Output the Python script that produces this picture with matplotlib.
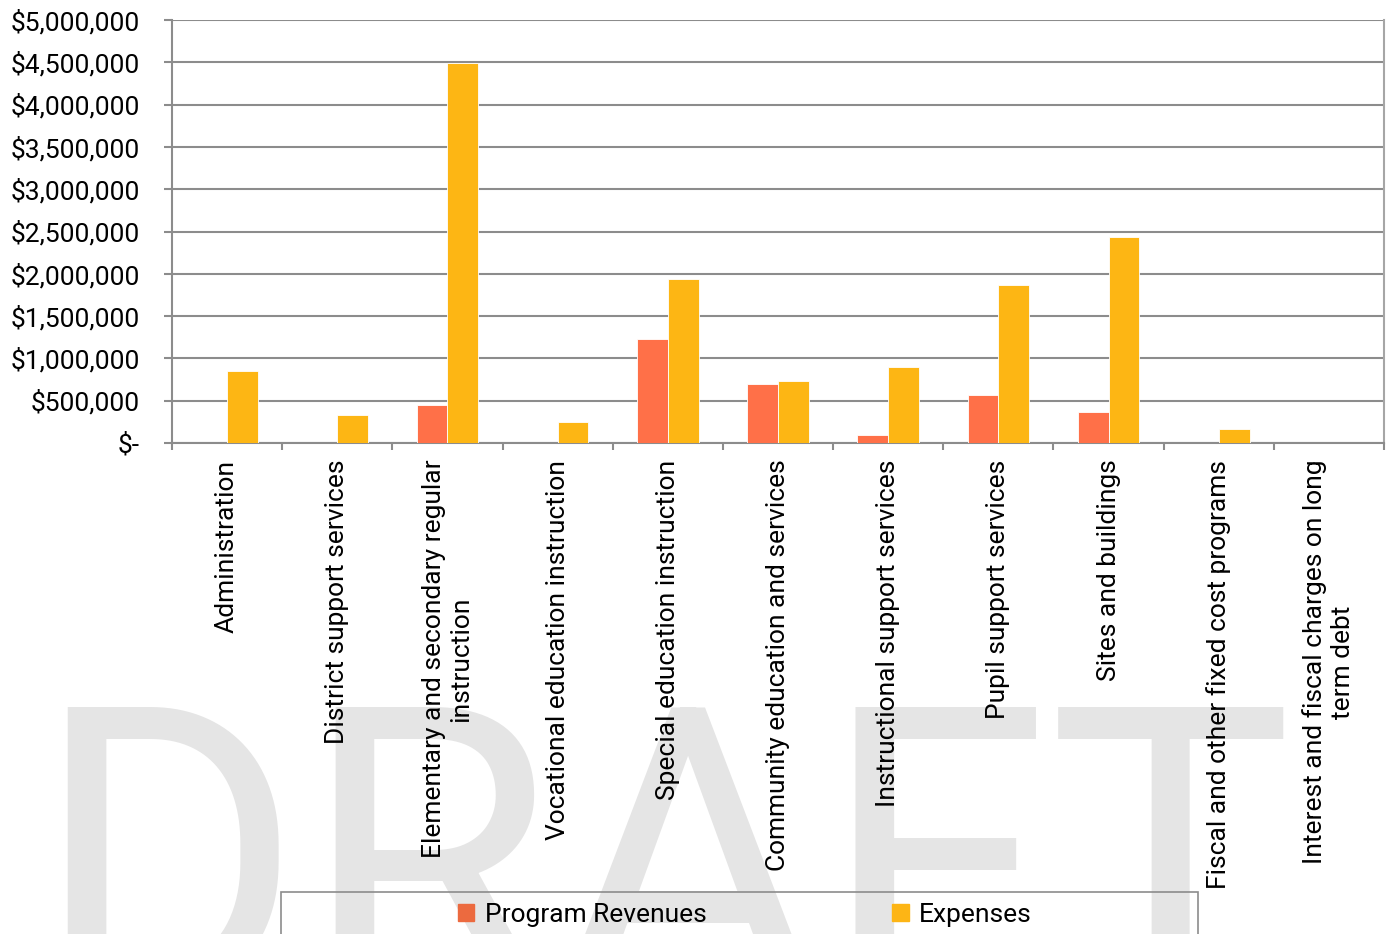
import matplotlib
matplotlib.use("Agg")
import matplotlib.pyplot as plt
from matplotlib.patches import Rectangle, Patch
from matplotlib.ticker import FuncFormatter, FixedLocator
import numpy as np

# Functional categories and amounts (dollars)
categories = [
    "Administration",
    "District support services",
    "Elementary and secondary regular\ninstruction",
    "Vocational education instruction",
    "Special education instruction",
    "Community education and services",
    "Instructional support services",
    "Pupil support services",
    "Sites and buildings",
    "Fiscal and other fixed cost programs",
    "Interest and fiscal charges on long\nterm debt",
]
program_revenues = [0, 0, 455000, 0, 1230000, 692000, 98000, 568000, 363000, 0, 0]
expenses = [855000, 335000, 4490000, 243000, 1940000, 737000, 898000, 1868000, 2435000, 169000, 0]

REV_COLOR = "#FF7048"
EXP_COLOR = "#FDB614"
GRID_COLOR = "#8C8C8C"

plt.rcParams["font.family"] = ["Roboto", "DejaVu Sans"]
plt.rcParams["font.size"] = 19

fig = plt.figure(figsize=(13.88, 9.34), dpi=100)
ax = fig.add_axes([172 / 1388, 1 - 443 / 934, (1384 - 172) / 1388, (443 - 20) / 934])

x = np.arange(len(categories))
w = 0.28
ax.bar(x - w / 2, program_revenues, w, color=REV_COLOR, edgecolor="white",
       linewidth=0.6, zorder=3)
ax.bar(x + w / 2, expenses, w, color=EXP_COLOR, edgecolor="white",
       linewidth=0.6, zorder=3)

ax.set_xlim(-0.5, len(categories) - 0.5)
ax.set_ylim(0, 5000000)
ax.set_yticks(np.arange(0, 5000001, 500000))
ax.yaxis.set_major_formatter(FuncFormatter(lambda v, p: "$-" if v == 0 else f"${v:,.0f}"))
ax.grid(axis="y", color=GRID_COLOR, linewidth=1.5, zorder=0)
ax.set_axisbelow(True)

ax.set_xticks(x)
ax.set_xticklabels(categories, rotation=90, multialignment="center")
ax.xaxis.set_minor_locator(FixedLocator(np.arange(-0.5, len(categories), 1.0)))
ax.tick_params(axis="x", which="major", length=0, pad=12)
ax.tick_params(axis="x", which="minor", length=5, width=1.5, color=GRID_COLOR)
ax.tick_params(axis="y", length=6, width=1.5, color=GRID_COLOR, pad=17)

for side in ["left", "right", "bottom"]:
    ax.spines[side].set_color(GRID_COLOR)
    ax.spines[side].set_linewidth(1.5)
ax.spines["right"].set_color("#A6A6A6")
ax.spines["top"].set_visible(False)

# background watermark
fig.text(33 / 1388, 1 - 998 / 934, "DRAFT", fontsize=295, color="#E5E5E5",
         ha="left", va="baseline", zorder=-5)

# legend box running off the bottom edge
fig.add_artist(Rectangle((281 / 1388, -0.05), (1198 - 281) / 1388, (934 - 892) / 934 + 0.05,
                         transform=fig.transFigure, facecolor="none",
                         edgecolor=GRID_COLOR, linewidth=1.2, zorder=2))
handles = [Patch(color="#EC6A3F", label="Program Revenues"),
           Patch(color="#FDB515", label="Expenses")]
fig.legend(handles=handles, loc="center left", bbox_to_anchor=(458 / 1388, 1 - 915 / 934),
           ncol=2, frameon=False, borderpad=0, borderaxespad=0, handlelength=0.61,
           handleheight=0.64, handletextpad=0.4, columnspacing=7.05, fontsize=19)

fig.savefig("out.png", dpi=100)
